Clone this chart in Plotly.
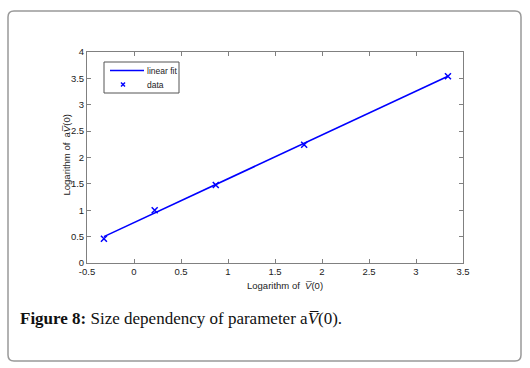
import plotly.graph_objects as go

# data
data_x = [-0.32, 0.22, 0.87, 1.81, 3.34]
data_y = [0.46, 1.00, 1.48, 2.24, 3.54]
fit_x = [-0.32, 3.34]
fit_y = [0.50, 3.54]
x_ticks = [-0.5, 0, 0.5, 1, 1.5, 2, 2.5, 3, 3.5]
x_tick_text = ["-0.5", "0", "0.5", "1", "1.5", "2", "2.5", "3", "3.5"]
y_ticks = [0, 0.5, 1, 1.5, 2, 2.5, 3, 3.5, 4]
y_tick_text = ["0", "0.5", "1", "1.5", "2", "2.5", "3", "3.5", "4"]
legend_labels = ["linear fit", "data"]

W, H = 530, 368
BLUE = "#0000ff"
FONT = "Arial, Liberation Sans"
def px(x): return x / W
def py(y): return 1 - y / H

fig = go.Figure()
fig.add_trace(go.Scatter(x=fit_x, y=fit_y, mode="lines", name=legend_labels[0],
                         line=dict(color=BLUE, width=1.6), showlegend=False))
fig.add_trace(go.Scatter(x=data_x, y=data_y, mode="markers", name=legend_labels[1],
                         marker=dict(symbol="x-thin", size=6, color=BLUE,
                                     line=dict(color=BLUE, width=1.5)), showlegend=False))

axis_common = dict(showgrid=False, zeroline=False, showline=True, linecolor="#808080",
                   linewidth=1, mirror="ticks", ticks="inside", ticklen=4,
                   tickcolor="#808080", automargin=False,
                   tickfont=dict(family=FONT, size=9.5, color="#222"))
fig.update_xaxes(range=[-0.5, 3.5], tickvals=x_ticks, ticktext=x_tick_text,
                 domain=[px(87), px(463)], **axis_common)
fig.update_yaxes(range=[0, 4], tickvals=y_ticks, ticktext=y_tick_text,
                 domain=[py(263), py(52)], **axis_common)

fig.update_layout(
    width=W, height=H, margin=dict(l=0, r=0, t=0, b=0, autoexpand=False),
    paper_bgcolor="white", plot_bgcolor="white", showlegend=False,
)

# compact MATLAB-style legend box
lx0, ly0, lx1, ly1 = 104, 62, 179, 93
fig.add_shape(type="rect", x0=px(lx0), x1=px(lx1), y0=py(ly1), y1=py(ly0),
              xref="paper", yref="paper", line=dict(color="#555", width=1),
              fillcolor="white", layer="above")
fig.add_shape(type="line", x0=px(110), x1=px(144), y0=py(70.5), y1=py(70.5),
              xref="paper", yref="paper", line=dict(color=BLUE, width=1.6), layer="above")
fig.add_shape(type="line", x0=px(121), x1=px(125), y0=py(82.5), y1=py(86.5),
              xref="paper", yref="paper", line=dict(color=BLUE, width=1.5), layer="above")
fig.add_shape(type="line", x0=px(121), x1=px(125), y0=py(86.5), y1=py(82.5),
              xref="paper", yref="paper", line=dict(color=BLUE, width=1.5), layer="above")
for txt, yy in zip(legend_labels, [70.5, 84.5]):
    fig.add_annotation(text=txt, x=px(145), y=py(yy), xref="paper", yref="paper",
                       xanchor="left", yanchor="middle", showarrow=False,
                       font=dict(family=FONT, size=8.5, color="#222"))

# outer rounded frame
x0, y0, x1, y1, r = 8, 11, 521, 361, 6
path = (f"M {px(x0 + r)},{py(y0)} L {px(x1 - r)},{py(y0)} Q {px(x1)},{py(y0)} {px(x1)},{py(y0 + r)} "
        f"L {px(x1)},{py(y1 - r)} Q {px(x1)},{py(y1)} {px(x1 - r)},{py(y1)} "
        f"L {px(x0 + r)},{py(y1)} Q {px(x0)},{py(y1)} {px(x0)},{py(y1 - r)} "
        f"L {px(x0)},{py(y0 + r)} Q {px(x0)},{py(y0)} {px(x0 + r)},{py(y0)} Z")
fig.add_shape(type="path", path=path, xref="paper", yref="paper",
              line=dict(color="#999", width=1.5))

# axis titles
fig.add_annotation(text="Logarithm of  <i>V\u0305</i>(0)", x=px(285), y=py(278),
                   xref="paper", yref="paper", showarrow=False, yanchor="top",
                   font=dict(family=FONT, size=9.5, color="#222"))
fig.add_annotation(text="Logarithm of  a<i>V\u0305</i>(0)", x=px(58), y=py(155),
                   xref="paper", yref="paper", showarrow=False, textangle=-90,
                   font=dict(family=FONT, size=9.5, color="#222"))
# caption
fig.add_annotation(text="<b>Figure 8:</b> Size dependency of parameter a<i>V\u0305</i>(0).",
                   x=px(18), y=py(330), xref="paper", yref="paper", showarrow=False,
                   xanchor="left",
                   font=dict(family="Liberation Serif, DejaVu Serif", size=17, color="#111"))

fig.write_html("out.html", config={"displayModeBar": False},
               post_script="document.body.style.margin='0';document.body.style.overflow='hidden';")
